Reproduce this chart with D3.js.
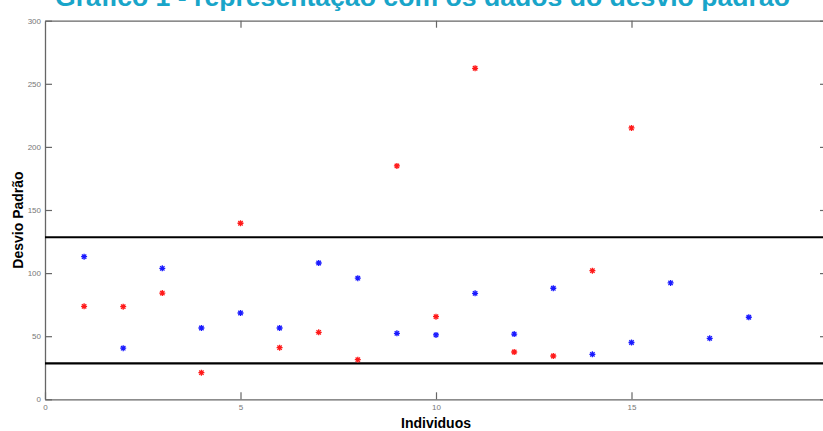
<!DOCTYPE html>
<html>
<head>
<meta charset="utf-8">
<script src="https://cdn.jsdelivr.net/npm/d3@7"></script>
<style>
  body { margin: 0; background: #fff; }
  svg { display: block; }
</style>
</head>
<body>
<div id="chart"></div>
<script>
// data
var individuos_azul = [1, 2, 3, 4, 5, 6, 7, 8, 9, 10, 11, 12, 13, 14, 15, 16, 17, 18];
var desvio_azul = [113, 40.5, 103.8, 56.5, 68.4, 56.5, 108, 96, 52.3, 51, 84, 51.7, 88, 35.6, 45, 92.2, 48.3, 65];
var individuos_vermelho = [1, 2, 3, 4, 5, 6, 7, 8, 9, 10, 11, 12, 13, 14, 15];
var desvio_vermelho = [73.7, 73.4, 84.2, 21.1, 139.5, 40.9, 53.1, 31.4, 184.9, 65.5, 262.3, 37.5, 34.3, 101.9, 215];
var limites = [128.4, 28.5];
var x_ticks = [0, 5, 10, 15];
var y_ticks = [0, 50, 100, 150, 200, 250, 300];

var chart_width = 823;
var chart_height = 431;
// plot box (the right edge lies just past the picture)
var plot_left = 45, plot_top = 20.7, plot_right = 827, plot_bottom = 399.3;

var svg = d3.select('#chart')
  .append('svg')
  .attr('width', chart_width)
  .attr('height', chart_height);

var x_scale = d3.scaleLinear().domain([0, 20]).range([plot_left, plot_right]);
var y_scale = d3.scaleLinear().domain([0, 300]).range([plot_bottom, plot_top]);

// axes with inward ticks, the domain paths make the frame
var x_axis = d3.axisBottom(x_scale).tickValues(x_ticks).tickSize(-7).tickSizeOuter(0).tickPadding(4);
svg.append('g')
  .attr('class', 'x-axis')
  .attr('transform', 'translate(0,' + plot_bottom + ')')
  .call(x_axis);

var x_axis_top = d3.axisTop(x_scale).tickValues(x_ticks.slice(1)).tickSize(-7).tickSizeOuter(0).tickFormat('');
svg.append('g')
  .attr('class', 'x-axis-top')
  .attr('transform', 'translate(0,' + plot_top + ')')
  .call(x_axis_top);

var y_axis = d3.axisLeft(y_scale).tickValues(y_ticks).tickSize(-7).tickSizeOuter(0).tickPadding(4);
svg.append('g')
  .attr('class', 'y-axis')
  .attr('transform', 'translate(' + plot_left + ',0)')
  .call(y_axis);

var y_axis_right = d3.axisRight(y_scale).tickValues(y_ticks).tickSize(-7).tickSizeOuter(0).tickFormat('');
svg.append('g')
  .attr('class', 'y-axis-right')
  .attr('transform', 'translate(' + plot_right + ',0)')
  .call(y_axis_right);

svg.selectAll('.domain').attr('stroke', '#666').attr('stroke-width', 1.3);
svg.selectAll('.tick line').attr('stroke', '#666').attr('stroke-width', 1.2);
svg.selectAll('.tick text')
  .attr('fill', '#777')
  .style('font-family', '"Liberation Sans", Arial, sans-serif')
  .style('font-size', '8px');
svg.select('.x-axis').selectAll('.tick text').attr('dy', '0.9em');

// limit lines
svg.append('g')
  .selectAll('line')
  .data(limites)
  .enter()
  .append('line')
  .attr('x1', plot_left)
  .attr('x2', plot_right)
  .attr('y1', function(d) { return y_scale(d); })
  .attr('y2', function(d) { return y_scale(d); })
  .attr('stroke', '#000')
  .attr('stroke-width', 2.2);

// asterisk markers
function asterisk(g, xs, ys, color) {
  var pts = xs.map(function(x, i) { return [x, ys[i]]; });
  var r = 3, d = 2.2;
  var path = 'M' + (-r) + ',0H' + r + 'M0,' + (-r) + 'V' + r +
    'M' + (-d) + ',' + (-d) + 'L' + d + ',' + d +
    'M' + (-d) + ',' + d + 'L' + d + ',' + (-d);
  g.selectAll('path')
    .data(pts)
    .enter()
    .append('path')
    .attr('transform', function(p) {
      return 'translate(' + x_scale(p[0]) + ',' + y_scale(p[1]) + ')';
    })
    .attr('d', path)
    .attr('fill', 'none')
    .attr('stroke', color)
    .attr('stroke-width', 1.3);
}
asterisk(svg.append('g'), individuos_vermelho, desvio_vermelho, '#ff1a1a');
asterisk(svg.append('g'), individuos_azul, desvio_azul, '#1a1aff');

// labels
svg.append('text')
  .attr('x', x_scale(10))
  .attr('y', 428)
  .attr('text-anchor', 'middle')
  .style('font-family', '"Liberation Sans", Arial, sans-serif')
  .style('font-weight', 'bold')
  .style('font-size', '14px')
  .text('Individuos');

svg.append('text')
  .attr('transform', 'translate(23,' + 220 + ') rotate(-90)')
  .attr('text-anchor', 'middle')
  .style('font-family', '"Liberation Sans", Arial, sans-serif')
  .style('font-weight', 'bold')
  .style('font-size', '14px')
  .text('Desvio Padrão');

// title, cut off at the top of the picture
var title = svg.append('text')
  .attr('x', 422.5)
  .attr('y', 6)
  .attr('text-anchor', 'middle')
  .attr('fill', '#19a5c9')
  .style('font-family', '"Liberation Sans", Arial, sans-serif')
  .style('font-weight', 'bold')
  .style('font-size', '23px')
  .text('Gráfico 1 - representação com os dados do desvio padrão');
var tw = title.node().getComputedTextLength();
title.style('font-size', (23 * 735 / tw) + 'px');
</script>
</body>
</html>
